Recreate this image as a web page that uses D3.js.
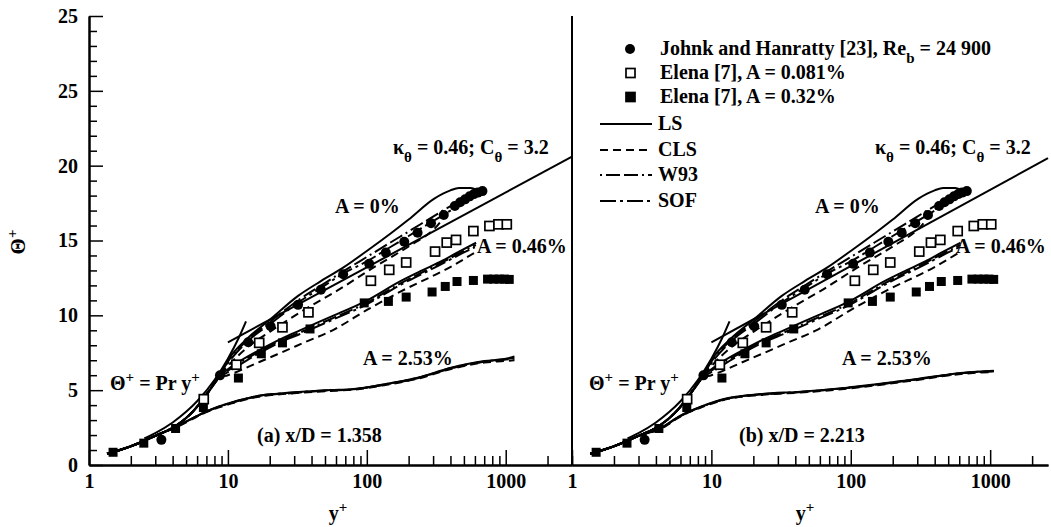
<!DOCTYPE html>
<html>
<head>
<meta charset="utf-8">
<script src="https://cdn.jsdelivr.net/npm/d3@7/dist/d3.min.js"></script>
<style>
  body { margin: 0; background: #fff; }
  svg text { font-family: "Liberation Serif", "Times New Roman", serif; font-weight: bold; fill: #000; }
</style>
</head>
<body>
<svg id="grafico"></svg>
<script>
// 0) Constantes
const WIDTH = 1051;
const HEIGHT = 527;

// --- Datos experimentales (y+, Theta+) ---
const johnk = [[3.32,1.68],[8.77,5.99],[14,8.2],[20.3,9.27],[32,10.7],[46.7,11.71],[67.6,12.75],[104,13.44],
  [137,14.19],[186,14.92],[232,15.52],[290,16.15],[358,16.7],[430,17.3],[470,17.55],[510,17.75],[550,17.95],
  [590,18.1],[630,18.2],[680,18.3]];
const elena081 = [[6.7,4.4],[11.5,6.7],[16.8,8.16],[24.7,9.2],[38,10.2],[107,12.31],[145,13.04],[192,13.53],
  [310,14.26],[376,14.86],[439,15.04],[585,15.63],[763,15.97],[886,16.08],[1018,16.08]];
const elena032 = [[1.49,0.85],[2.48,1.46],[4.2,2.44],[6.66,3.84],[11.9,5.81],[17.4,7.43],[24.7,8.16],[39,9.09],
  [95.8,10.83],[143,10.93],[192,11.22],[295,11.56],[367,11.93],[446,12.26],[585,12.33],[740,12.42],
  [820,12.42],[900,12.42],[980,12.42],[1060,12.4]];

// --- Leyes de pared ---
const linearLaw = [[2.5,1.78],[3,2.13],[4,2.84],[5,3.55],[6,4.26],[8,5.68],[10,7.1],[12,8.52],[13.5,9.6]];
const logLawA = [[10,8.2],[3000,20.6]];
const logLawB = [[10,8.2],[2600,20.5]];

// --- Modelos: subcapa viscosa comun ---
const subcapa = [[1.35,0.75],[2,1.25],[3,1.95],[4.2,2.6],[5.5,3.5],[7,4.7],[8.5,5.8]];

// A = 0%
const ls0  = [[10,7.0],[14,8.5],[20,9.7],[32,11.3],[47,12.3],[68,13.2],[100,14.3],[150,15.5],[200,16.4],[306,17.8],[400,18.35],[460,18.5],[560,18.5],[640,18.3],[680,18.15]];
const cls0 = [[10,6.6],[14,7.9],[20,8.9],[39,10.6],[60,11.6],[112,13.2],[200,14.6],[300,15.7],[427,17.3],[550,17.8],[680,18.2]];
const w930 = [[10,6.9],[14,8.4],[20,9.55],[32,11.0],[47,12.0],[68,12.95],[100,13.9],[150,14.9],[200,15.6],[300,16.6],[400,17.3],[500,17.8],[600,18.1],[680,18.3]];
const sof0 = [[10,6.8],[14,8.3],[20,9.4],[32,10.85],[47,11.85],[68,12.8],[100,13.6],[150,14.6],[200,15.3],[300,16.3],[400,17.0],[500,17.6],[600,18.0],[680,18.3]];

// A = 0.46%
const ls046  = [[10,6.4],[12,6.9],[17,7.7],[25,8.5],[33,9.0],[58,10.0],[96,10.9],[176,12.3],[250,13.0],[342,13.6],[450,14.2],[612,14.85]];
const cls046 = [[10,6.0],[17,6.9],[22.7,7.4],[35,8.16],[58,9.05],[101,10.38],[176,11.6],[405,13.26],[600,14.2]];
const w93046 = [[10,6.3],[17,7.6],[25,8.4],[33,8.85],[58,9.85],[96,10.75],[176,12.15],[342,13.5],[500,14.3],[610,14.7]];
const sof046 = [[10,6.2],[17,7.5],[25,8.3],[33,8.75],[58,9.75],[96,10.65],[176,12.05],[342,13.4],[500,14.2],[600,14.55]];

// A = 2.53%, panel (a)
const ls253a  = [[1.35,0.75],[2,1.25],[3,1.95],[4.2,2.55],[5.5,3.1],[6.7,3.5],[8.5,3.9],[10.5,4.17],[16.3,4.61],[28.4,4.84],[55,5.01],[77,5.06],[133,5.39],[232,5.83],[405,6.5],[702,6.95],[1000,7.1],[1156,7.25]];
const cls253a = [[1.35,0.75],[2,1.25],[3,1.95],[4.2,2.5],[5.5,3.05],[6.7,3.45],[8.5,3.83],[10.5,4.1],[16.3,4.55],[28.4,4.78],[55,4.95],[77,5.02],[133,5.33],[232,5.76],[405,6.42],[702,6.85],[1000,6.95],[1156,7.0]];
const w93253a = [[1.35,0.75],[2,1.25],[3,1.95],[4.2,2.55],[5.5,3.08],[6.7,3.48],[8.5,3.87],[10.5,4.14],[16.3,4.58],[28.4,4.8],[55,4.98],[77,5.04],[133,5.36],[232,5.8],[405,6.46],[702,6.9],[1000,7.05],[1156,7.12]];
const sof253a = [[1.35,0.75],[2,1.25],[3,1.95],[4.2,2.55],[5.5,3.1],[6.7,3.5],[8.5,3.88],[10.5,4.15],[16.3,4.6],[28.4,4.82],[55,5.0],[77,5.05],[133,5.38],[232,5.82],[405,6.48],[702,6.92],[1000,7.08],[1156,7.18]];

// A = 2.53%, panel (b)
const ls253b  = [[1.35,0.75],[2,1.25],[3,1.95],[4.3,2.45],[6,3.3],[8.4,3.9],[13,4.46],[22.5,4.74],[43.6,4.9],[94,5.17],[283,5.72],[647,6.17],[1062,6.3]];
const cls253b = [[1.35,0.75],[2,1.25],[3,1.95],[4.3,2.4],[6,3.24],[8.4,3.84],[13,4.4],[22.5,4.68],[43.6,4.84],[94,5.1],[283,5.65],[647,6.1],[1062,6.22]];
const w93253b = [[1.35,0.75],[2,1.25],[3,1.95],[4.3,2.43],[6,3.27],[8.4,3.87],[13,4.43],[22.5,4.71],[43.6,4.87],[94,5.14],[283,5.69],[647,6.14],[1062,6.26]];
const sof253b = [[1.35,0.75],[2,1.25],[3,1.95],[4.3,2.44],[6,3.28],[8.4,3.88],[13,4.44],[22.5,4.72],[43.6,4.88],[94,5.15],[283,5.7],[647,6.15],[1062,6.28]];

// Ejes
const yMajor = [0, 5, 10, 15, 20, 25, 30];
const yLabels = ["0", "5", "10", "15", "20", "25", "25"];
const xMajor = [1, 10, 100, 1000];
const xLabels = ["1", "10", "100", "1000"];

// estilos de linea por modelo
const estilos = {
  LS: null,
  CLS: "8,5",
  W93: "2,4,14,4,14,4",
  SOF: "16,4,3,4"
};

const FUENTE = 20;
const FUENTE_IND = 15;

// 1) SVG y escalas
const svg = d3.select("#grafico").attr("width", WIDTH).attr("height", HEIGHT);

const escalaY = d3.scaleLinear().domain([0, 30]).range([465, 16]);
const escalaXA = d3.scaleLog().domain([1, 3000]).range([89, 572]);
const escalaXB = d3.scaleLog().domain([1, 2600]).range([572, 1048]);

const yMinor = d3.range(0, 31).filter(v => v % 5 !== 0);
const menores = maxV => {
  const out = [];
  [1, 10, 100, 1000].forEach(dec => {
    for (let k = 2; k <= 9; k++) if (dec * k <= maxV) out.push(dec * k);
  });
  return out;
};

const estiloEje = g => {
  g.select(".domain").attr("stroke", "#000").attr("stroke-width", 2);
  g.selectAll(".tick line").attr("stroke", "#000").attr("stroke-width", 1.5);
  g.selectAll("text").attr("font-size", FUENTE).attr("font-family", "Liberation Serif, serif").attr("font-weight", "bold");
};

// eje Y izquierdo
svg.append("g").attr("transform", "translate(89,0)")
  .call(d3.axisLeft(escalaY).tickValues(yMinor).tickSize(-8).tickSizeOuter(0).tickFormat(""))
  .call(estiloEje);
svg.append("g").attr("transform", "translate(89,0)")
  .call(d3.axisLeft(escalaY).tickValues(yMajor).tickSize(-14).tickSizeOuter(0).tickPadding(11)
    .tickFormat((d, i) => yLabels[i]))
  .call(estiloEje);

// divisor entre paneles
svg.append("line")
  .attr("x1", escalaXB(1)).attr("x2", escalaXB(1))
  .attr("y1", escalaY(30)).attr("y2", escalaY(0))
  .attr("stroke", "#000").attr("stroke-width", 2);

// texto con superindices / subindices
const escribir = (g, x, y, partes, size) => {
  const el = g.append("text").attr("x", x).attr("y", y).attr("font-size", size || FUENTE);
  partes.forEach(p => {
    const ts = el.append("tspan").text(p[0]);
    if (p[1] === "sup") ts.attr("baseline-shift", "super").attr("font-size", FUENTE_IND);
    if (p[1] === "sub") ts.attr("baseline-shift", "sub").attr("font-size", FUENTE_IND);
  });
  return el;
};

// 2) Funcion para dibujar cada panel
const dibujarPanel = (escalaX, maxMinor, curvas, logLaw, textos) => {
  const g = svg.append("g");

  g.append("g").attr("transform", `translate(0,${escalaY(0)})`)
    .call(d3.axisBottom(escalaX).tickValues(menores(maxMinor)).tickSize(-9).tickSizeOuter(0).tickFormat(""))
    .call(estiloEje);
  g.append("g").attr("transform", `translate(0,${escalaY(0)})`)
    .call(d3.axisBottom(escalaX).tickValues(xMajor).tickSize(-15).tickSizeOuter(0).tickPadding(9)
      .tickFormat((d, i) => xLabels[i]))
    .call(estiloEje);

  const linea = d3.line()
    .x(d => escalaX(d[0]))
    .y(d => escalaY(d[1]))
    .curve(d3.curveMonotoneX);
  const recta = d3.line().x(d => escalaX(d[0])).y(d => escalaY(d[1]));

  // leyes de pared
  g.append("path").datum(logLaw).attr("d", recta)
    .attr("fill", "none").attr("stroke", "#000").attr("stroke-width", 2);
  g.append("path").datum(linearLaw).attr("d", linea)
    .attr("fill", "none").attr("stroke", "#000").attr("stroke-width", 2);

  // curvas de los modelos
  g.selectAll(".modelo")
    .data(curvas)
    .join("path")
    .attr("class", "modelo")
    .attr("d", d => linea(d.puntos))
    .attr("fill", "none")
    .attr("stroke", "#000")
    .attr("stroke-width", 2)
    .attr("stroke-dasharray", d => estilos[d.modelo]);

  // datos experimentales
  g.selectAll(".johnk").data(johnk).join("circle")
    .attr("class", "johnk")
    .attr("cx", d => escalaX(d[0])).attr("cy", d => escalaY(d[1]))
    .attr("r", 5).attr("fill", "#000");
  g.selectAll(".e081").data(elena081).join("rect")
    .attr("class", "e081")
    .attr("x", d => escalaX(d[0]) - 4.5).attr("y", d => escalaY(d[1]) - 4.5)
    .attr("width", 9).attr("height", 9)
    .attr("fill", "#fff").attr("stroke", "#000").attr("stroke-width", 1.7);
  g.selectAll(".e032").data(elena032).join("rect")
    .attr("class", "e032")
    .attr("x", d => escalaX(d[0]) - 4.5).attr("y", d => escalaY(d[1]) - 4.5)
    .attr("width", 9).attr("height", 9)
    .attr("fill", "#000");

  // textos del panel (posicion relativa al borde izquierdo)
  const x0 = escalaX(1);
  escribir(g, x0 + textos.kx, 154, [["κ"], ["θ", "sub"], [" = 0.46; C"], ["θ", "sub"], [" = 3.2"]]);
  escribir(g, x0 + textos.a0x, 213, [["A = 0%"]]);
  escribir(g, x0 + textos.a46x, 253, [["A = 0.46%"]]);
  escribir(g, x0 + textos.a253x, 365, [["A = 2.53%"]]);
  escribir(g, x0 + textos.prx, 390, [["Θ"], ["+", "sup"], [" = Pr y"], ["+", "sup"]]);
  escribir(g, x0 + textos.xdx, 442, [[textos.xd]]);
  escribir(g, x0 + textos.yx, 520, [["y"], ["+", "sup"]]).attr("text-anchor", "middle");
};

const curvasA = [
  { modelo: "LS", puntos: subcapa.concat(ls0) },
  { modelo: "CLS", puntos: subcapa.concat(cls0) },
  { modelo: "W93", puntos: subcapa.concat(w930) },
  { modelo: "SOF", puntos: subcapa.concat(sof0) },
  { modelo: "LS", puntos: subcapa.concat(ls046) },
  { modelo: "CLS", puntos: subcapa.concat(cls046) },
  { modelo: "W93", puntos: subcapa.concat(w93046) },
  { modelo: "SOF", puntos: subcapa.concat(sof046) },
  { modelo: "LS", puntos: ls253a },
  { modelo: "CLS", puntos: cls253a },
  { modelo: "W93", puntos: w93253a },
  { modelo: "SOF", puntos: sof253a }
];
const curvasB = curvasA.slice(0, 8).concat([
  { modelo: "LS", puntos: ls253b },
  { modelo: "CLS", puntos: cls253b },
  { modelo: "W93", puntos: w93253b },
  { modelo: "SOF", puntos: sof253b }
]);

dibujarPanel(escalaXA, 3000, curvasA, logLawA,
  { kx: 304, a0x: 246, a46x: 388, a253x: 274, prx: 21, xdx: 168, xd: "(a) x/D = 1.358", yx: 249 });
dibujarPanel(escalaXB, 2000, curvasB, logLawB,
  { kx: 303, a0x: 243, a46x: 384, a253x: 270, prx: 17, xdx: 167, xd: "(b) x/D = 2.213", yx: 233 });

// titulo eje Y
escribir(svg.append("g").attr("transform", "translate(25,242) rotate(-90)"), 0, 0,
  [["Θ"], ["+", "sup"]], 21).attr("text-anchor", "middle");

// 3) Leyenda
const leyendaMarcas = [
  { tipo: "circulo", y: 49, partes: [["Johnk and Hanratty [23], Re"], ["b", "sub"], [" = 24 900"]] },
  { tipo: "abierto", y: 73, partes: [["Elena [7], A = 0.081%"]] },
  { tipo: "lleno", y: 97, partes: [["Elena [7], A = 0.32%"]] }
];
const leyendaLineas = [
  { modelo: "LS", y: 124 },
  { modelo: "CLS", y: 150 },
  { modelo: "W93", y: 175 },
  { modelo: "SOF", y: 201 }
];

const ley = svg.append("g");
leyendaMarcas.forEach(d => {
  if (d.tipo === "circulo") {
    ley.append("circle").attr("cx", 630).attr("cy", d.y).attr("r", 5).attr("fill", "#000");
  } else {
    ley.append("rect").attr("x", 626).attr("y", d.y - 4.5).attr("width", 9).attr("height", 9)
      .attr("fill", d.tipo === "lleno" ? "#000" : "#fff").attr("stroke", "#000").attr("stroke-width", 1.7);
  }
  escribir(ley, 660, d.y + 6, d.partes);
});
leyendaLineas.forEach(d => {
  ley.append("line").attr("x1", 600).attr("x2", 652).attr("y1", d.y).attr("y2", d.y)
    .attr("stroke", "#000").attr("stroke-width", 2).attr("stroke-dasharray", estilos[d.modelo]);
  ley.append("text").attr("x", 658).attr("y", d.y + 6).attr("font-size", FUENTE).text(d.modelo);
});
</script>
</body>
</html>
